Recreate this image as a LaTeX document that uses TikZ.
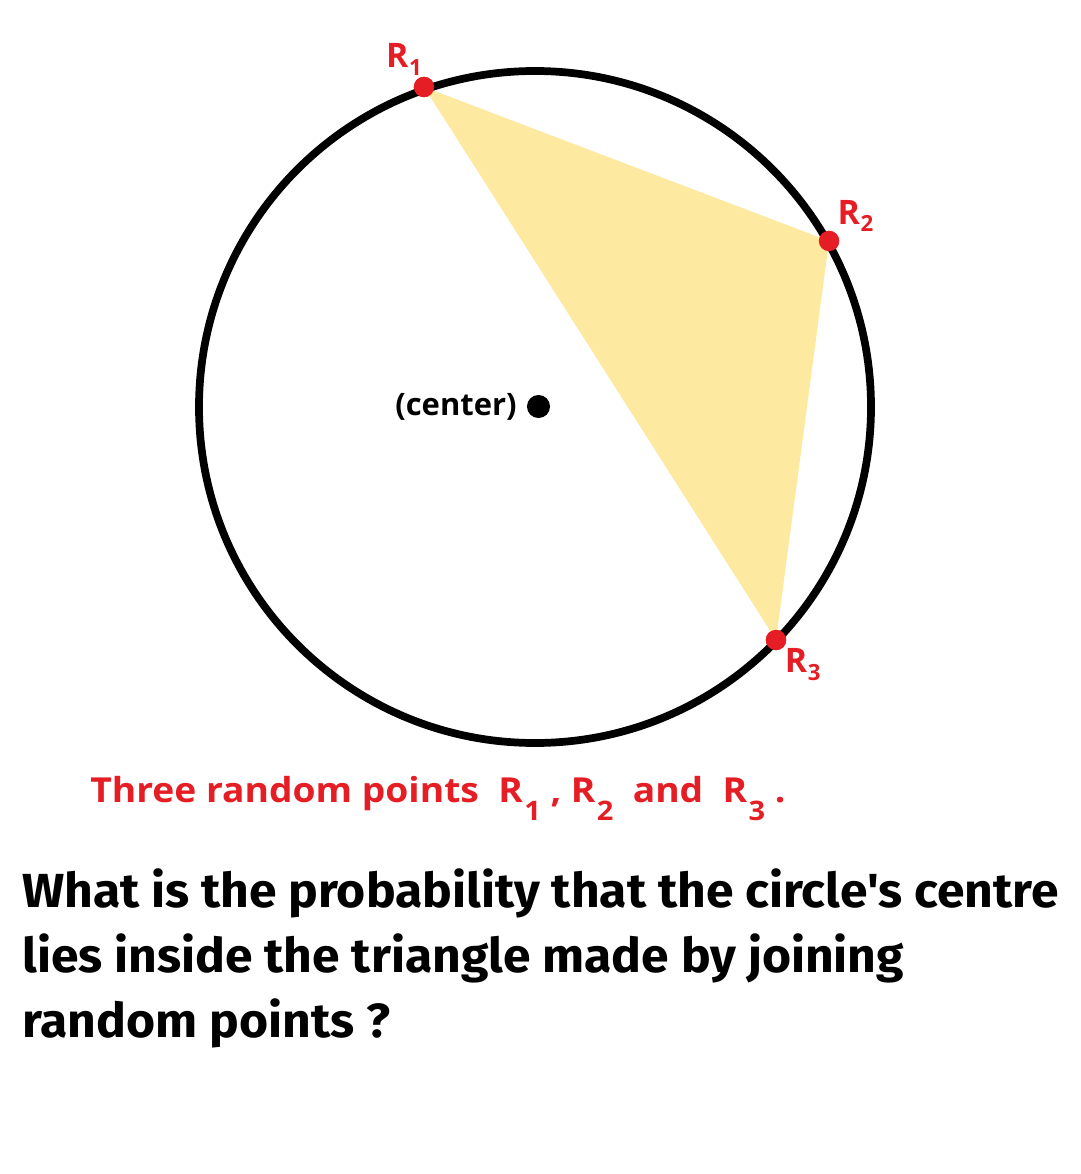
\documentclass[tikz,border=0pt]{standalone}
\usepackage{fontspec}
\setmainfont{Open Sans}
\newfontfamily\capfont[FakeStretch=1.08]{Open Sans}
\newfontfamily\questfont[FakeStretch=1.042]{Fira Sans}
\usetikzlibrary{positioning}

\definecolor{ptred}{RGB}{228,30,36}
\definecolor{triyellow}{RGB}{253,233,160}

% R with a lowered index
\newcommand{\Rlab}[1]{R\kern0.5pt\raisebox{-0.22em}{\scalebox{0.66}{#1}}}
\newcommand{\Rcap}[1]{R\kern1pt\raisebox{-0.55em}{\scalebox{0.78}{#1}}}

\begin{document}
\begin{tikzpicture}[
    x=0.025cm, y=-0.025cm,
    dot/.style = {circle, fill=ptred, minimum size=14.5pt, inner sep=0pt, outer sep=0pt},
    lbl/.style = {text=ptred, font=\bfseries\fontsize{24}{28}\selectfont, inner sep=1pt},
    ring/.style = {line width=5.5pt, black}
]
    \fill[white] (0,0) rectangle (1080,1174);
    \useasboundingbox (0,0) rectangle (1080,1174);

    \coordinate (O) at (535,407);

    \node at (424,87) [dot, label={[lbl]93:\Rlab{1}}] (R1) {};
    \node at (829,241) [dot, label={[lbl]48:\Rlab{2}}] (R2) {};
    \node at (776,640) [dot, label={[lbl]-45:\Rlab{3}}] (R3) {};

    % triangle
    \fill[triyellow] (R1.center) -- (R2.center) -- (R3.center) -- cycle;
    \draw[ring] (O) circle[radius=336];

    \node at (R1) [dot] {};
    \node at (R2) [dot] {};
    \node at (R3) [dot] {};

    % centre
    \node at (538.5,406.5) [circle, fill=black, minimum size=16.4pt, inner sep=0pt] (C) {};
    \node [left=7pt of C, inner sep=0pt, font=\bfseries\fontsize{22}{26}\selectfont] (Clab) {(center)};

    % caption
    \node at (90,802) [anchor=base west, inner sep=0pt, text=ptred, font=\capfont\bfseries\fontsize{24.5}{30}\selectfont] (cap)
        {Three random points\ \ \Rcap{1} , \Rcap{2}\ \ and\ \ \Rcap{3} .};

    % question (base = last line)
    \node at (22,1037) [anchor=base west, inner sep=0pt, align=left, font=\questfont\bfseries\fontsize{34}{46.2}\selectfont] (quest)
        {What is the probability that the circle's centre\\
         lies inside the triangle made by joining\\
         random points ?};
\end{tikzpicture}
\end{document}
